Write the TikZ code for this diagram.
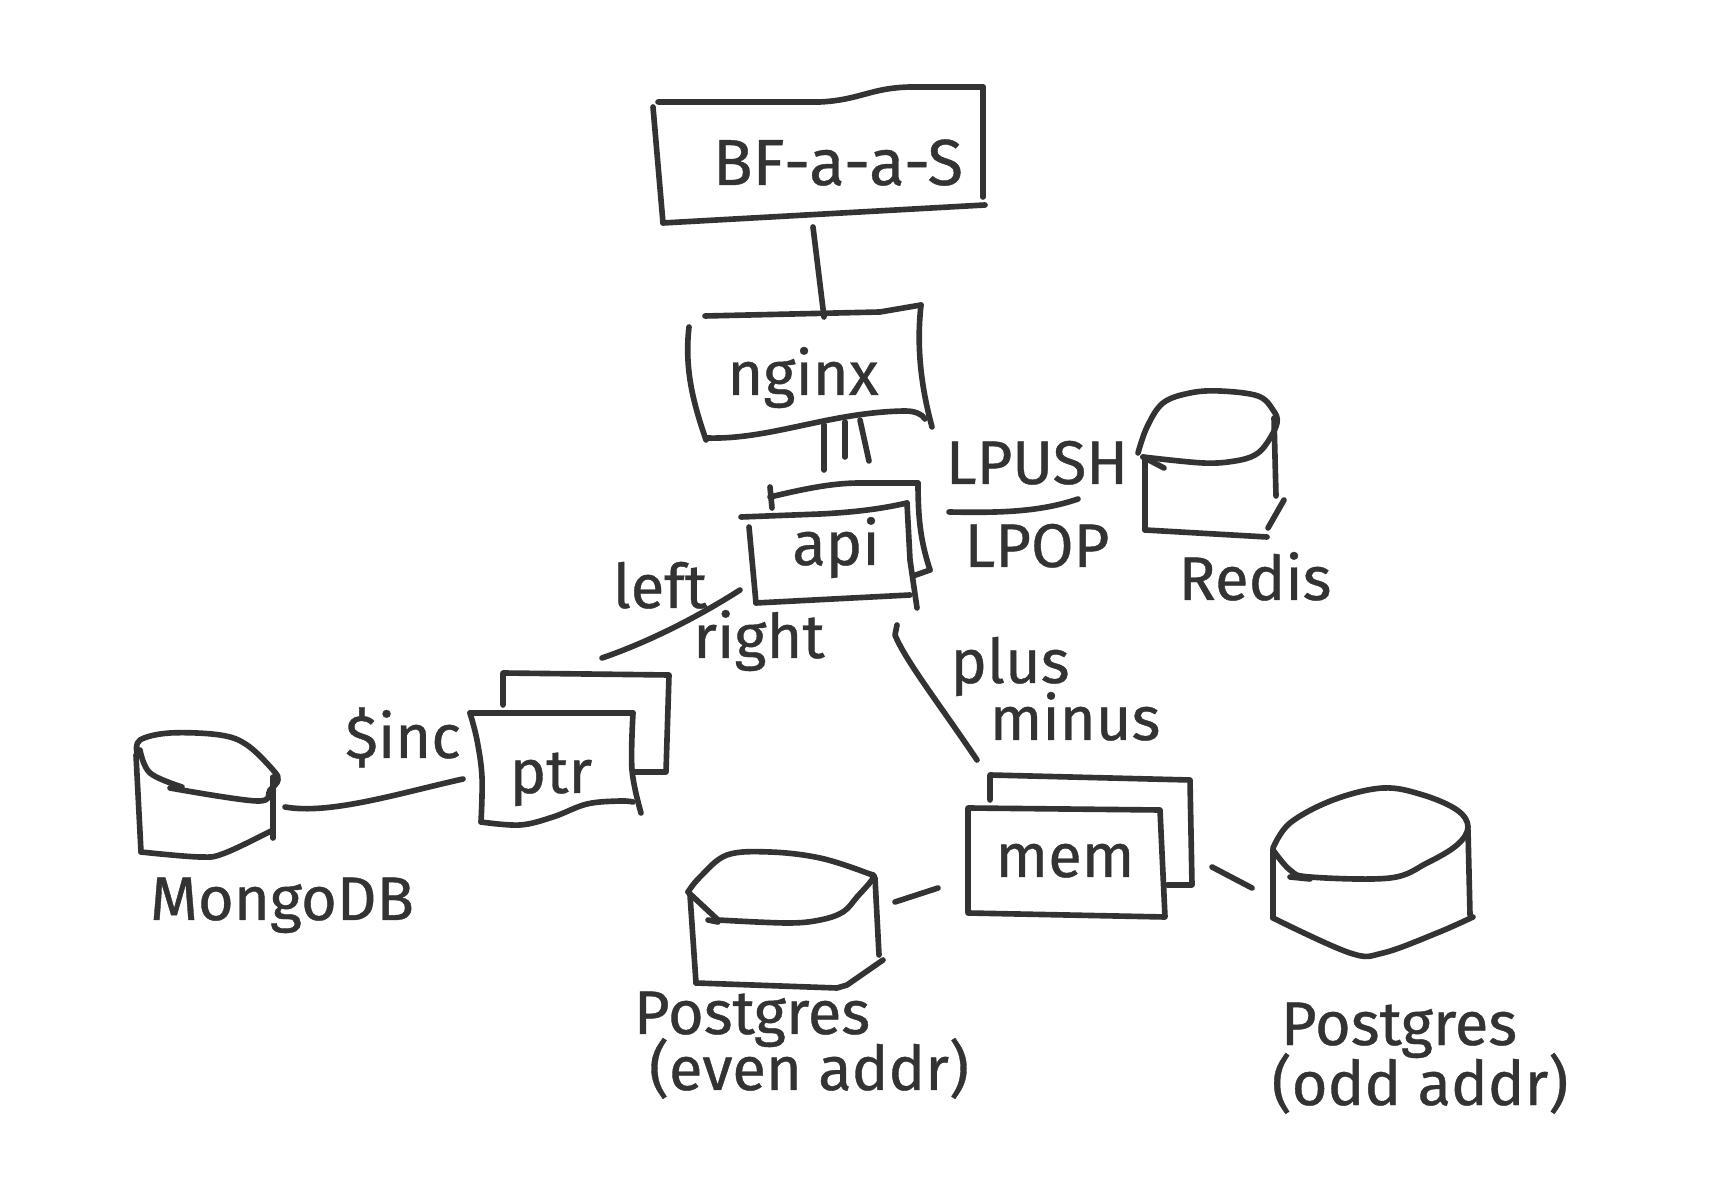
\documentclass[tikz,border=0pt]{standalone}
\usepackage{fontspec}
\newfontfamily\hand[FakeBold=0.6]{Fira Sans}
\definecolor{inkc}{RGB}{51,51,51}
\tikzset{
  ink/.style={draw=inkc, line width=1.6pt, line cap=round, line join=round},
  lbl/.style={text=inkc, font=\hand\fontsize{17.5}{20}\selectfont, anchor=base, inner sep=0pt},
  biglbl/.style={lbl, font=\hand\fontsize{18.5}{20}\selectfont},
}
\begin{document}
\begin{tikzpicture}[x=0.01cm,y=-0.01cm]
\useasboundingbox[fill=white] (0,0) rectangle (1718,1204);

% ---------- labels ----------
\node[biglbl] (bfaas) at (838,185) {BF-a-a-S};
\node[lbl] (nginx) at (803,395) {nginx};
\node[lbl] (api) at (836,565) {api};
\node[lbl] (lpush) at (1037,484) {LPUSH};
\node[lbl] (lpop) at (1037,567) {LPOP};
\node[lbl] (redis) at (1255,600) {Redis};
\node[lbl] (left) at (660,608) {left};
\node[lbl] (right) at (759,658) {right};
\node[lbl] (plus) at (1010,683) {plus};
\node[lbl] (minus) at (1075,740) {minus};
\node[lbl] (inc) at (403,758) {\$inc};
\node[lbl] (ptr) at (551,793) {ptr};
\node[lbl] (mongo) at (282,920) {MongoDB};
\node[lbl] (mem) at (1065,877) {mem};
\node[lbl] (pgeA) at (752,1034) {Postgres};
\node[lbl] (pgeB) at (809,1090) {(even addr)};
\node[lbl] (pgoA) at (1399,1045) {Postgres};
\node[lbl] (pgoB) at (1420,1105) {(odd addr)};

% ---------- BF-a-a-S box ----------
\draw[ink] (658,102) -- (820,102) .. controls (860,100) and (870,88) .. (910,87) -- (983,87);
\draw[ink] (983,87) -- (983,197);
\draw[ink] (653,107) -- (663,223);
\draw[ink] (663,223) -- (985,205);

% ---------- nginx box ----------
\draw[ink] (705,316) -- (880,312) -- (921,305);
\draw[ink] (921,305) .. controls (916,350) and (922,390) .. (932,427);
\draw[ink] (689,327) .. controls (684,370) and (694,405) .. (706,440);
\draw[ink] (707,438) .. controls (770,440) and (830,412) .. (905,411) .. controls (915,411) and (922,414) .. (925,419);

% ---------- api boxes ----------
\draw[ink] (770,487) -- (772,508);
\draw[ink] (770,497) .. controls (800,490) and (830,483) .. (860,483) -- (918,483);
\draw[ink] (918,483) .. controls (918,525) and (922,545) .. (930,570);
\draw[ink] (930,570) -- (913,576);
\draw[ink] (741,517) -- (820,514) .. controls (860,512) and (885,508) .. (907,503);
\draw[ink] (907,503) -- (910,560) -- (917,608);
\draw[ink] (749,527) -- (756,603);
\draw[ink] (756,603) -- (910,595);

% ---------- LPUSH / LPOP separator ----------
\draw[ink] (949,512) .. controls (1000,513) and (1040,512) .. (1078,499);

% ---------- Redis ----------
\draw[ink] plot[smooth, tension=0.6] coordinates {(1138,453) (1147,427) (1163,403) (1190,393) (1220,391) (1258,396) (1273,410) (1277,423) (1267,443) (1255,455) (1235,461) (1203,463) (1143,457)};
\draw[ink] (1143,457) -- (1164,468);
\draw[ink] (1145,458) -- (1145,530);
\draw[ink] (1145,530) -- (1267,537);
\draw[ink] (1268,528) -- (1284,500);
\draw[ink] (1274,418) -- (1276,496);

% ---------- ptr boxes ----------
\draw[ink] (503,705) -- (503,673) -- (669,675) -- (666,772) -- (633,772);
\draw[ink] (470,713) -- (633,713);
\draw[ink] plot[smooth, tension=0.6] coordinates {(470,713) (477,740) (482,777) (481,822)};
\draw[ink] plot[smooth, tension=0.6] coordinates {(481,822) (520,825) (553,817) (587,804) (620,801) (633,802)};
\draw[ink] plot[smooth, tension=0.6] coordinates {(633,713) (632,770) (641,813)};

% ---------- MongoDB ----------
\draw[ink] plot[smooth, tension=0.6] coordinates {(137,753) (140,740) (170,733) (220,735) (247,745) (273,770) (278,780) (270,790) (257,801) (170,788)};
\draw[ink] plot[smooth, tension=0.6] coordinates {(140,750) (150,773) (182,787)};
\draw[ink] (136,755) -- (141,852);
\draw[ink] plot[smooth, tension=0.6] coordinates {(141,852) (200,857) (225,853) (273,830)};
\draw[ink] (273,777) -- (273,838);

% ---------- mem boxes ----------
\draw[ink] (990,800) -- (990,775) -- (1190,780) -- (1192,885) -- (1167,885);
\draw[ink] (968,808) -- (1160,810) -- (1165,917) -- (968,913) -- cycle;

% ---------- Postgres (even) ----------
\draw[ink] plot[smooth, tension=0.6] coordinates {(688,892) (700,877) (727,855) (770,852) (820,858) (867,873) (873,878) (857,897) (843,912) (820,920) (787,923) (718,920)};
\draw[ink] (718,920) -- (688,892);
\draw[ink] (708,920) -- (718,922);
\draw[ink] (690,895) -- (696,983);
\draw[ink] (696,983) -- (837,988) -- (847,985) -- (883,960);
\draw[ink] (875,878) -- (879,955);

% ---------- Postgres (odd) ----------
\draw[ink] plot[smooth, tension=0.6] coordinates {(1273,848) (1290,823) (1333,800) (1383,788) (1423,795) (1457,810) (1468,827) (1457,845) (1427,863) (1390,878) (1310,877) (1290,870) (1273,850)};
\draw[ink] (1290,877) -- (1310,879);
\draw[ink] (1273,850) -- (1273,918);
\draw[ink] plot[smooth, tension=0.6] coordinates {(1273,918) (1350,953) (1383,953) (1437,933) (1473,917)};
\draw[ink] (1468,830) -- (1470,915);

% ---------- connectors ----------
\coordinate (bf-s) at (813,227);
\coordinate (ngx-n) at (824,317);
\draw[ink] (bf-s) -- (ngx-n);

\coordinate (ngx-s1) at (824,425);  \coordinate (api-n1) at (824,470);
\coordinate (ngx-s2) at (845,422);  \coordinate (api-n2) at (845,457);
\coordinate (ngx-s3) at (860,420);  \coordinate (api-n3) at (869,461);
\draw[ink] (ngx-s1) -- (api-n1);
\draw[ink] (ngx-s2) -- (api-n2);
\draw[ink] (ngx-s3) -- (api-n3);

\coordinate (api-w) at (740,590);
\coordinate (ptr-n) at (602,658);
\draw[ink] (api-w) .. controls (690,622) and (640,645) .. (ptr-n);

\coordinate (api-s) at (897,625);
\coordinate (mem-n) at (977,760);
\draw[ink] (api-s) -- (895,635) .. controls (905,660) and (940,705) .. (mem-n);

\coordinate (ptr-w) at (463,779);
\coordinate (mongo-e) at (285,807);
\draw[ink] (ptr-w) .. controls (400,793) and (330,815) .. (mongo-e);

\coordinate (mem-w) at (938,888);
\coordinate (pge-e) at (895,902);
\draw[ink] (mem-w) -- (pge-e);

\coordinate (mem-e) at (1212,867);
\coordinate (pgo-w) at (1252,888);
\draw[ink] (mem-e) -- (pgo-w);
\end{tikzpicture}
\end{document}
